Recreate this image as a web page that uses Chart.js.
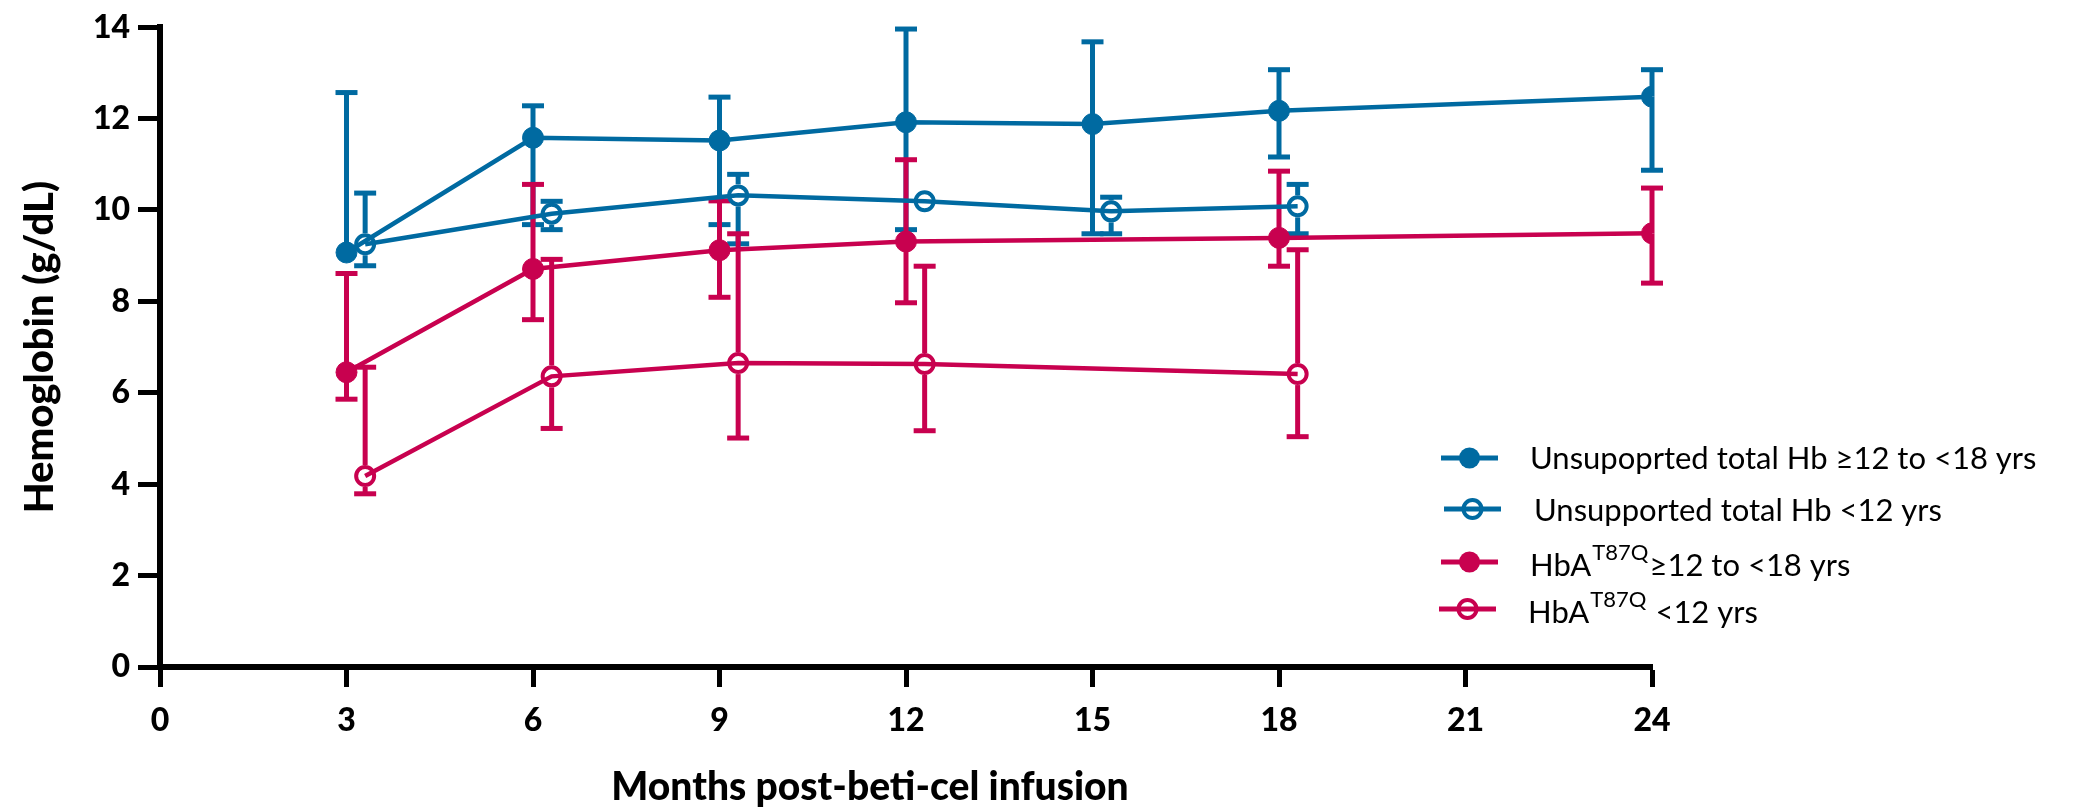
<!DOCTYPE html>
<html>
<head>
<meta charset="utf-8">
<title>Hemoglobin after beti-cel infusion</title>
<script src="https://cdn.jsdelivr.net/npm/chart.js@4.4.1/dist/chart.umd.min.js"></script>
<style>
    html, body { margin: 0; padding: 0; background: #fff; }
    #wrap { width: 2095px; height: 810px; position: relative; }
</style>
</head>
<body>
<div id="wrap"><canvas id="hbChart"></canvas></div>
<script>
// months post infusion (the <12 yrs groups sit a little to the right of each visit)
var totalOlderMonths = [3, 6, 9, 12, 15, 18, 24];
var totalYoungerMonths = [3.3, 6.3, 9.3, 12.3, 15.3, 18.3];
var hbaOlderMonths = [3, 6, 9, 12, 18, 24];
var hbaYoungerMonths = [3.3, 6.3, 9.3, 12.3, 18.3];

// unsupported total Hb, >=12 to <18 yrs
var totalOlder = [9.07, 11.58, 11.52, 11.92, 11.88, 12.17, 12.48];
var totalOlderHi = [12.57, 12.28, 12.47, 13.96, 13.68, 13.07, 13.07];
var totalOlderLo = [9.07, 9.68, 9.68, 9.57, 9.48, 11.16, 10.87];

// unsupported total Hb, <12 yrs
var totalYounger = [9.25, 9.92, 10.32, 10.19, 9.97, 10.08];
var totalYoungerHi = [10.37, 10.19, 10.78, null, 10.28, 10.56];
var totalYoungerLo = [8.78, 9.57, 9.26, null, 9.48, 9.48];

// HbA T87Q, >=12 to <18 yrs
var hbaOlder = [6.45, 8.71, 9.12, 9.31, 9.39, 9.49];
var hbaOlderHi = [8.61, 10.56, 10.2, 11.1, 10.85, 10.48];
var hbaOlderLo = [5.86, 7.60, 8.09, 7.97, 8.77, 8.40];

// HbA T87Q, <12 yrs
var hbaYounger = [4.18, 6.36, 6.65, 6.63, 6.41];
var hbaYoungerHi = [6.56, 8.92, 9.48, 8.77, 9.13];
var hbaYoungerLo = [3.79, 5.22, 5.01, 5.17, 5.04];

var xTicks = [0, 3, 6, 9, 12, 15, 18, 21, 24];
var yTicks = [0, 2, 4, 6, 8, 10, 12, 14];

var xTitle = 'Months post-beti-cel infusion';
var yTitle = 'Hemoglobin (g/dL)';

// legend text: main part, superscript, rest
var seriesLabels = [
    ['Unsupoprted total Hb \u226512 to <18 yrs', '', ''],
    ['Unsupported total Hb <12 yrs', '', ''],
    ['HbA', 'T87Q', '\u226512 to <18 yrs'],
    ['HbA', 'T87Q', ' <12 yrs']
];

var BLUE = '#006aa1';
var PINK = '#c8014f';

function points(xs, ys) {
    return xs.map(function (x, i) { return { x: x, y: ys[i] }; });
}

function series(label, xs, ys, hi, lo, color, hollow) {
    return {
        label: label,
        data: points(xs, ys),
        hi: hi,
        lo: lo,
        hollow: hollow,
        borderColor: color,
        backgroundColor: color,
        borderWidth: 4.5,
        pointRadius: hollow ? 9 : 10.5,
        pointBorderWidth: hollow ? 4 : 1,
        pointBackgroundColor: hollow ? 'rgba(255,255,255,0)' : color,
        pointBorderColor: color,
        tension: 0,
        fill: false
    };
}

// error bars drawn under the lines, through the library's scales
var errorBars = {
    id: 'errorBars',
    beforeDatasetsDraw: function (chart) {
        var ctx = chart.ctx;
        var xs = chart.scales.x, ys = chart.scales.y;
        chart.data.datasets.forEach(function (ds) {
            ctx.save();
            ctx.strokeStyle = ds.borderColor;
            ctx.lineWidth = 5;
            ctx.lineCap = 'butt';
            ds.data.forEach(function (p, i) {
                var px = xs.getPixelForValue(p.x);
                var py = ys.getPixelForValue(p.y);
                var gap = ds.hollow ? 11 : 0;
                [ds.hi[i], ds.lo[i]].forEach(function (v) {
                    if (v == null || v === p.y) return;
                    var vy = ys.getPixelForValue(v);
                    var dir = vy < py ? -1 : 1;
                    ctx.beginPath();
                    ctx.moveTo(px, py + dir * gap);
                    ctx.lineTo(px, vy);
                    ctx.stroke();
                    ctx.beginPath();
                    ctx.moveTo(px - 11, vy);
                    ctx.lineTo(px + 11, vy);
                    ctx.stroke();
                });
            });
            ctx.restore();
        });
    }
};

// x title sits a bit left of the axis centre in the figure
var xAxisTitle = {
    id: 'xAxisTitle',
    afterDraw: function (chart) {
        var ctx = chart.ctx, area = chart.chartArea;
        ctx.save();
        ctx.fillStyle = '#000';
        ctx.font = '900 39px Lato';
        ctx.textAlign = 'center';
        ctx.textBaseline = 'middle';
        ctx.fillText(xTitle, (area.left + area.right) / 2 - 36, 787);
        ctx.restore();
    }
};

// legend at the lower right, with superscript text
var hbLegend = {
    id: 'hbLegend',
    afterDraw: function (chart) {
        var ctx = chart.ctx;
        var rows = [
            { x: 1441, y: 458, tx: 1530, ty: 459 },
            { x: 1444, y: 509, tx: 1534, ty: 511 },
            { x: 1441, y: 562, tx: 1530, ty: 566 },
            { x: 1439, y: 609, tx: 1528, ty: 613 }
        ];
        chart.data.datasets.forEach(function (ds, i) {
            var r = rows[i];
            ctx.save();
            ctx.strokeStyle = ds.borderColor;
            ctx.fillStyle = ds.borderColor;
            ctx.lineWidth = 5;
            ctx.beginPath();
            ctx.moveTo(r.x, r.y);
            ctx.lineTo(r.x + 57, r.y);
            ctx.stroke();
            ctx.beginPath();
            ctx.arc(r.x + 28.5, r.y, ds.hollow ? 9 : 10.5, 0, Math.PI * 2);
            if (ds.hollow) {
                ctx.lineWidth = 4;
                ctx.stroke();
            } else {
                ctx.fill();
            }

            var parts = seriesLabels[i];
            ctx.fillStyle = '#000';
            ctx.textBaseline = 'middle';
            ctx.textAlign = 'left';
            ctx.font = '31px Lato';
            var x = r.tx;
            ctx.fillText(parts[0], x, r.ty);
            x += ctx.measureText(parts[0]).width;
            if (parts[1]) {
                ctx.font = '22px Lato';
                ctx.fillText(parts[1], x + 1, r.ty - 13);
                x += ctx.measureText(parts[1]).width + 2;
                ctx.font = '31px Lato';
                ctx.fillText(parts[2], x, r.ty);
            }
            ctx.restore();
        });
    }
};

var tickFont = { family: 'Lato', size: 32, weight: '900' };

new Chart(document.getElementById('hbChart'), {
    type: 'line',
    data: {
        datasets: [
            series('Unsupoprted total Hb \u226512 to <18 yrs', totalOlderMonths, totalOlder, totalOlderHi, totalOlderLo, BLUE, false),
            series('Unsupported total Hb <12 yrs', totalYoungerMonths, totalYounger, totalYoungerHi, totalYoungerLo, BLUE, true),
            series('HbA T87Q \u226512 to <18 yrs', hbaOlderMonths, hbaOlder, hbaOlderHi, hbaOlderLo, PINK, false),
            series('HbA T87Q <12 yrs', hbaYoungerMonths, hbaYounger, hbaYoungerHi, hbaYoungerLo, PINK, true)
        ]
    },
    options: {
        responsive: true,
        maintainAspectRatio: false,
        animation: false,
        devicePixelRatio: 1,
        layout: { padding: { left: 0, right: 443, top: 21, bottom: 0 } },
        plugins: {
            legend: { display: false },
            tooltip: { enabled: false }
        },
        scales: {
            x: {
                type: 'linear',
                min: 0,
                max: 24,
                afterBuildTicks: function (scale) {
                    scale.ticks = xTicks.map(function (v) { return { value: v }; });
                },
                afterFit: function (scale) { scale.height = 143; },
                ticks: { color: '#000', font: tickFont, padding: 14, autoSkip: false, maxRotation: 0 },
                grid: { drawOnChartArea: false, tickLength: 20, tickWidth: 5, tickColor: '#000' },
                border: { display: true, color: '#000', width: 6 },
                title: { display: false }
            },
            y: {
                min: 0,
                max: 14,
                afterBuildTicks: function (scale) {
                    scale.ticks = yTicks.map(function (v) { return { value: v }; });
                },
                afterFit: function (scale) { scale.width = 160; },
                ticks: { color: '#000', font: tickFont, padding: 8 },
                grid: { drawOnChartArea: false, tickLength: 22, tickWidth: 5, tickColor: '#000' },
                border: { display: true, color: '#000', width: 6 },
                title: {
                    display: true,
                    text: yTitle,
                    color: '#000',
                    font: { family: 'Lato', size: 40, weight: '900' },
                    padding: { top: 16, bottom: 0 }
                }
            }
        }
    },
    plugins: [errorBars, xAxisTitle, hbLegend]
});
</script>
</body>
</html>
